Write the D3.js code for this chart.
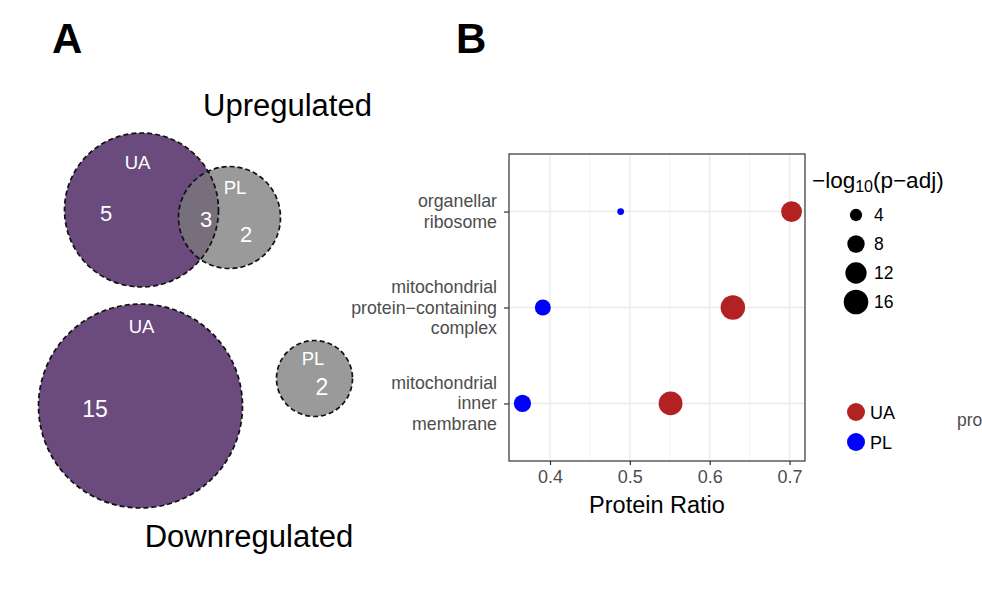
<!DOCTYPE html>
<html><head><meta charset="utf-8">
<script src="https://cdn.jsdelivr.net/npm/d3@7"></script>
<style>body{margin:0;background:#fff}svg{display:block}text{font-family:"Liberation Sans",Arial,sans-serif}</style>
</head><body>
<svg id="c" width="982" height="596"></svg>
<script>
// ---------- DATA ----------
// Panel A: Venn region counts
const vennUp = {UAonly: 5, both: 3, PLonly: 2};
const vennDown = {UAonly: 15, PLonly: 2};
const vennSets = ["UA", "PL"];
// Panel B: dot plot
const terms = ["organellar ribosome", "mitochondrial protein\u2212containing complex", "mitochondrial inner membrane"];
const termLines = [["organellar","ribosome"],["mitochondrial","protein\u2212containing","complex"],["mitochondrial","inner","membrane"]];
const groups = ["UA", "PL"];
const ratioUA = [0.7025, 0.629, 0.551];
const ratioPL = [0.4885, 0.391, 0.3655];
const logpUA = [11.5, 15.8, 15.0];
const logpPL = [1.2, 6.7, 7.8];
const xTicks = [0.4, 0.5, 0.6, 0.7];
const sizeBreaks = [4, 8, 12, 16];

// ---------- DRAW ----------
const svg = d3.select("#c");
const purple = "#6b4a7e", plGray = "rgb(123,123,123)", plOp = 0.764;
const dash = "5,3", dashW = 1.7;

// Panel letters
svg.append("text").attr("x", 52).attr("y", 53).attr("font-size", 42).attr("font-weight", "bold").text("A");
svg.append("text").attr("x", 456).attr("y", 53).attr("font-size", 42).attr("font-weight", "bold").text("B");

// Venn layout (geometry)
function venn(g, geo, counts, labels) {
  g.append("circle").attr("cx", geo.ua.cx).attr("cy", geo.ua.cy).attr("r", geo.ua.r).attr("fill", purple);
  g.append("circle").attr("cx", geo.pl.cx).attr("cy", geo.pl.cy).attr("r", geo.pl.r)
    .attr("fill", plGray).attr("fill-opacity", plOp);
  [geo.ua, geo.pl].forEach(c => g.append("circle").attr("cx", c.cx).attr("cy", c.cy).attr("r", c.r)
    .attr("fill", "none").attr("stroke", "#111").attr("stroke-width", dashW).attr("stroke-dasharray", dash));
  labels.forEach(l => g.append("text").attr("x", l.x).attr("y", l.y).attr("text-anchor", "middle")
    .attr("fill", "#fff").attr("font-size", l.fs).text(l.t));
}
const upG = svg.append("g");
venn(upG, {ua: {cx: 141.5, cy: 210, r: 77}, pl: {cx: 229.5, cy: 217.5, r: 51}}, vennUp, [
  {t: vennSets[0], x: 137.5, y: 169, fs: 18.5},
  {t: vennUp.UAonly, x: 106, y: 220.5, fs: 22},
  {t: vennUp.both, x: 206, y: 227, fs: 22},
  {t: vennSets[1], x: 235, y: 194, fs: 18.5},
  {t: vennUp.PLonly, x: 246, y: 242, fs: 22}
]);
svg.append("text").attr("x", 287.5).attr("y", 116).attr("text-anchor", "middle").attr("font-size", 31).text("Upregulated");

const dnG = svg.append("g");
venn(dnG, {ua: {cx: 140.5, cy: 406, r: 102}, pl: {cx: 314.5, cy: 378.5, r: 38}}, vennDown, [
  {t: vennSets[0], x: 141.5, y: 333, fs: 18.5},
  {t: vennDown.UAonly, x: 95, y: 416.5, fs: 23},
  {t: vennSets[1], x: 313, y: 364.5, fs: 18.5},
  {t: vennDown.PLonly, x: 322, y: 395, fs: 23}
]);
svg.append("text").attr("x", 249).attr("y", 547).attr("text-anchor", "middle").attr("font-size", 31).text("Downregulated");

// Panel B
const P = {l: 509, t: 154, r: 805, b: 461};
const all = ratioUA.concat(ratioPL);
const ext = d3.extent(all), pad = (ext[1] - ext[0]) * 0.05;
const x = d3.scaleLinear().domain([ext[0] - pad, ext[1] + pad]).range([P.l, P.r]);
const y = d3.scalePoint().domain(terms).range([P.t, P.b]).padding(0.6);
const rS = d3.scaleSqrt().domain([0, 16]).range([0, 12.3]);
const col = d3.scaleOrdinal().domain(groups).range(["#b22222", "#0000ff"]);

const gB = svg.append("g");
const minor = d3.range(0.45, 0.7, 0.1);
gB.selectAll(".mn").data(minor).join("line").attr("x1", d => x(d)).attr("x2", d => x(d))
  .attr("y1", P.t).attr("y2", P.b).attr("stroke", "#f1f1f1").attr("stroke-width", 0.8);
gB.selectAll(".mj").data(xTicks).join("line").attr("x1", d => x(d)).attr("x2", d => x(d))
  .attr("y1", P.t).attr("y2", P.b).attr("stroke", "#ebebeb").attr("stroke-width", 1.4);
gB.selectAll(".hj").data(terms).join("line").attr("x1", P.l).attr("x2", P.r)
  .attr("y1", d => y(d)).attr("y2", d => y(d)).attr("stroke", "#ebebeb").attr("stroke-width", 1.4);

const pts = [];
terms.forEach((t, i) => {
  pts.push({t, g: "PL", x: ratioPL[i], s: logpPL[i]});
  pts.push({t, g: "UA", x: ratioUA[i], s: logpUA[i]});
});
gB.selectAll(".pt").data(pts).join("circle").attr("cx", d => x(d.x)).attr("cy", d => y(d.t))
  .attr("r", d => rS(d.s)).attr("fill", d => col(d.g));

gB.append("rect").attr("x", P.l).attr("y", P.t).attr("width", P.r - P.l).attr("height", P.b - P.t)
  .attr("fill", "none").attr("stroke", "#333").attr("stroke-width", 1.2);

const xa = gB.append("g").attr("transform", `translate(0,${P.b})`)
  .call(d3.axisBottom(x).tickValues(xTicks).tickSize(4).tickPadding(5).tickFormat(d3.format(".1f")));
xa.select(".domain").remove();
xa.selectAll(".tick line").attr("stroke", "#333").attr("stroke-width", 1.2);
xa.selectAll(".tick text").attr("fill", "#4d4d4d").attr("font-size", 18).attr("font-family", "Liberation Sans, Arial, sans-serif");
gB.append("text").attr("x", (P.l + P.r) / 2).attr("y", 513).attr("text-anchor", "middle").attr("font-size", 23.5).text("Protein Ratio");

const ya = gB.append("g").attr("transform", `translate(${P.l},0)`)
  .call(d3.axisLeft(y).tickSize(5).tickPadding(7).tickFormat(""));
ya.select(".domain").remove();
ya.selectAll(".tick line").attr("stroke", "#333").attr("stroke-width", 1.2);
const lh = 20.5;
terms.forEach((t, i) => {
  const lines = termLines[i];
  const tx = gB.append("text").attr("text-anchor", "end").attr("fill", "#4d4d4d").attr("font-size", 17.8);
  lines.forEach((ln, j) => {
    tx.append("tspan").attr("x", 497).attr("y", y(t) + (j - (lines.length - 1) / 2) * lh + 6).text(ln);
  });
});

// size legend
const lg = svg.append("g");
const title = lg.append("text").attr("x", 812).attr("y", 188).attr("font-size", 22.5);
title.append("tspan").text("\u2212log");
title.append("tspan").attr("font-size", 16).attr("dy", 4).text("10");
title.append("tspan").attr("dy", -4).text("(p\u2212adj)");
const sy = d3.scalePoint().domain(sizeBreaks).range([215, 302]);
lg.selectAll(".sl").data(sizeBreaks).join("circle").attr("cx", 856).attr("cy", d => sy(d)).attr("r", d => rS(d)).attr("fill", "#000");
lg.selectAll(".st").data(sizeBreaks).join("text").attr("x", 874).attr("y", d => sy(d) + 6).attr("font-size", 17.5).text(d => d);

// color legend
const cy = d3.scalePoint().domain(groups).range([412, 442]);
lg.selectAll(".cl").data(groups).join("circle").attr("cx", 856).attr("cy", d => cy(d)).attr("r", 9).attr("fill", d => col(d));
lg.selectAll(".ct").data(groups).join("text").attr("x", 870).attr("y", d => cy(d) + 6.5).attr("font-size", 18).text(d => d);

// neighbouring panel text at right edge
svg.append("text").attr("x", 957).attr("y", 426).attr("fill", "#4d4d4d").attr("font-size", 17.5).text("pro");
</script>
</body></html>
